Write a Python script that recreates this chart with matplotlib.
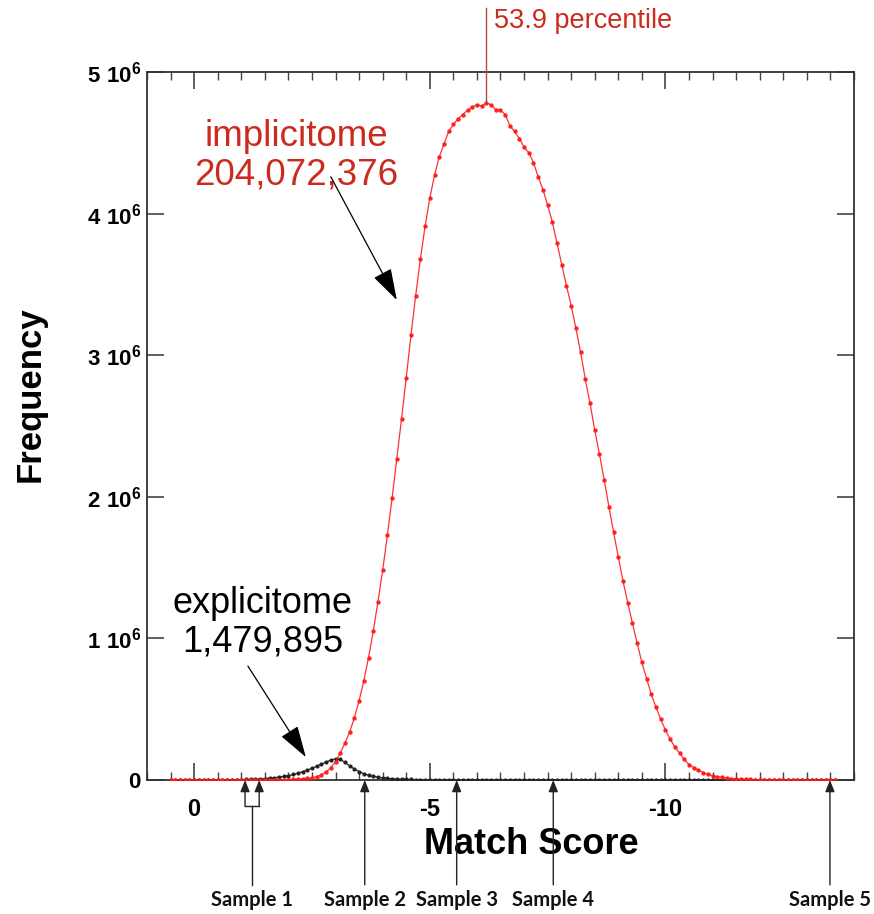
import numpy as np
import matplotlib
matplotlib.use("Agg")
import matplotlib.pyplot as plt
from matplotlib.ticker import MultipleLocator

# Plot inputs
DPI = 100
FIGSIZE = (8.74, 9.14)
XMIN, XMAX = 1, -14
YMIN, YMAX = 0, 5e6
FONT = "Liberation Sans"
SAMPLE_FONT = "Lato"
RED = "#ff1a1a"
TEXT_RED = "#cc2a1e"
LINE_RED = "#b84a35"
DARK = "#222222"

# Histogram bins: match score from 0.5 down in steps of 0.1
SCORE_START = 0.5
SCORE_STEP = -0.1

# Frequencies per bin, in millions
IMPLICITOME = [
    0, 0, 0, 0, 0, 0, 0, 0, 0, 0,                                        # 0.5 .. -0.4
    0, 0, 0, 0, 0, 0, 0, 0, 0, 0.001,                                    # -0.5 .. -1.4
    0.001, 0.001, 0.001, 0.002, 0.002, 0.003, 0.004, 0.006, 0.008, 0.011,  # -1.5 .. -2.4
    0.016, 0.024, 0.036, 0.056, 0.088, 0.13, 0.19, 0.26, 0.34, 0.44,     # -2.5 .. -3.4
    0.56, 0.70, 0.865, 1.05, 1.26, 1.48, 1.73, 1.99, 2.27, 2.55,         # -3.5 .. -4.4
    2.84, 3.14, 3.42, 3.68, 3.91, 4.11, 4.27, 4.40, 4.49, 4.58,          # -4.5 .. -5.4
    4.63, 4.67, 4.70, 4.73, 4.75, 4.77, 4.76, 4.78, 4.77, 4.735,         # -5.5 .. -6.4
    4.73, 4.70, 4.62, 4.58, 4.53, 4.47, 4.43, 4.36, 4.26, 4.17,          # -6.5 .. -7.4
    4.06, 3.94, 3.79, 3.64, 3.49, 3.35, 3.19, 3.02, 2.83, 2.66,          # -7.5 .. -8.4
    2.47, 2.30, 2.12, 1.93, 1.75, 1.575, 1.405, 1.25, 1.107, 0.965,      # -8.5 .. -9.4
    0.83, 0.715, 0.605, 0.513, 0.428, 0.353, 0.288, 0.234, 0.19, 0.145,  # -9.5 .. -10.4
    0.109, 0.088, 0.07, 0.053, 0.039, 0.03, 0.023, 0.018, 0.014, 0.01,   # -10.5 .. -11.4
    0.008, 0.006, 0.005, 0.004, 0.003, 0.002, 0.002, 0.001, 0.001, 0.001,  # -11.5 .. -12.4
    0, 0, 0, 0, 0, 0, 0, 0, 0, 0,                                        # -12.5 .. -13.4
    0, 0,                                                                # -13.5 .. -13.6
]
EXPLICITOME = [
    0, 0, 0, 0, 0, 0, 0, 0, 0, 0,
    0, 0.001, 0.001, 0.002, 0.002, 0.003, 0.004, 0.005, 0.006, 0.008,
    0.010, 0.013, 0.016, 0.020, 0.025, 0.031, 0.039, 0.048, 0.058, 0.070,
    0.083, 0.097, 0.112, 0.127, 0.140, 0.150, 0.145, 0.125, 0.100, 0.078,
    0.060, 0.045, 0.034, 0.026, 0.020, 0.015, 0.012, 0.009, 0.007, 0.006,
    0.005, 0.004, 0.003, 0.003, 0.002, 0.002, 0.001, 0.001, 0.001, 0.001,
    0, 0, 0, 0, 0, 0, 0, 0, 0, 0,
    0, 0, 0, 0, 0, 0, 0, 0, 0, 0,
    0, 0, 0, 0, 0, 0, 0, 0, 0, 0,
    0, 0, 0, 0, 0, 0, 0, 0, 0, 0,
    0, 0, 0, 0, 0, 0, 0, 0, 0, 0,
    0, 0, 0, 0, 0, 0, 0, 0, 0, 0,
    0, 0, 0, 0, 0, 0, 0, 0, 0, 0,
    0, 0, 0, 0, 0, 0, 0, 0, 0, 0,
    0, 0,
]

IMPLICIT_LABEL = "implicitome\n204,072,376"
EXPLICIT_LABEL = "explicitome\n1,479,895"
PERCENTILE_LABEL = "53.9 percentile"

X_TICKS = [0, -5, -10]
X_TICK_LABELS = ["0", "-5", "-10"]
Y_TICKS = [0, 1e6, 2e6, 3e6, 4e6, 5e6]
Y_TICK_LABELS = [r"$\mathbf{0}\;\;$"] + [rf"$\mathbf{{{k}\ 10^{{6}}}}$"
                                        for k in range(1, 6)]

SAMPLE_NAMES = ["Sample 1", "Sample 2", "Sample 3", "Sample 4", "Sample 5"]
SAMPLE_SCORES = [[-1.08, -1.38], [-3.62], [-5.57], [-7.62], [-13.49]]


def sample_arrows(ax):
    trans = ax.get_xaxis_transform()
    arrow = dict(arrowstyle="-|>,head_length=0.5,head_width=0.2", color=DARK,
                 lw=1.0, mutation_scale=14, shrinkA=0, shrinkB=0)
    for name, scores in zip(SAMPLE_NAMES, SAMPLE_SCORES):
        xc = np.mean(scores)
        if len(scores) > 1:
            # bracket joining two arrows
            for s in scores:
                ax.annotate("", xy=(s, 0), xytext=(s, -0.037), xycoords=trans,
                            textcoords=trans, arrowprops=arrow,
                            annotation_clip=False)
            ax.plot([min(scores), max(scores)], [-0.037, -0.037], color=DARK,
                    lw=1.0, transform=trans, clip_on=False)
            ax.plot([xc, xc], [-0.037, -0.148], color=DARK, lw=1.0,
                    transform=trans, clip_on=False)
        else:
            ax.annotate("", xy=(xc, 0), xytext=(xc, -0.148), xycoords=trans,
                        textcoords=trans, arrowprops=arrow,
                        annotation_clip=False)
        ax.text(xc, -0.17, name, transform=trans, ha="center", va="center",
                fontsize=14.5, fontweight="bold", family=SAMPLE_FONT,
                color="#111111")


def main():
    plt.rcParams["font.family"] = FONT
    plt.rcParams["mathtext.fontset"] = "custom"
    plt.rcParams["mathtext.rm"] = FONT
    plt.rcParams["mathtext.bf"] = FONT + ":bold"

    scores = np.round(SCORE_START + SCORE_STEP * np.arange(len(IMPLICITOME)), 1)
    implicit = np.array(IMPLICITOME) * 1e6
    explicit = np.array(EXPLICITOME) * 1e6

    fig = plt.figure(figsize=FIGSIZE, dpi=DPI)
    ax = fig.add_axes([0.1682, 0.1466, 0.8089, 0.7746])

    ax.plot(scores, explicit, color=DARK, lw=0.9, marker="o", ms=2.0,
            zorder=3)
    ax.plot(scores, implicit, color=RED, lw=0.9, marker="o", ms=2.2,
            alpha=0.9, zorder=4)

    ax.set_xlim(XMIN, XMAX)
    ax.set_ylim(YMIN, YMAX)
    ax.set_xticks(X_TICKS, labels=X_TICK_LABELS, fontsize=17,
                  fontweight="bold")
    ax.set_yticks(Y_TICKS, labels=Y_TICK_LABELS, fontsize=16,
                  fontweight="bold")
    ax.xaxis.set_minor_locator(MultipleLocator(0.5))
    ax.tick_params(which="both", direction="in", top=True, right=True,
                   color="#444444")
    ax.tick_params(which="major", length=12, width=1.2)
    ax.tick_params(which="minor", length=6, width=1.0)
    ax.tick_params(axis="x", pad=13)
    ax.tick_params(axis="y", pad=4)
    for sp in ax.spines.values():
        sp.set_color("#333333")
        sp.set_linewidth(1.3)

    ax.set_xlabel("Match Score", fontsize=26, fontweight="bold")
    ax.xaxis.set_label_coords(0.543, -0.066)
    ax.set_ylabel("Frequency", fontsize=25, fontweight="bold")
    ax.yaxis.set_label_coords(-0.142, 0.545)

    # labels with arrows
    ax.text(-2.16, 4.41e6, IMPLICIT_LABEL, color=TEXT_RED, fontsize=26.5,
            ha="center", va="center", linespacing=1.15)
    ax.annotate("", xy=(-4.30, 3.39e6), xytext=(-2.90, 4.26e6),
                arrowprops=dict(arrowstyle="-|>,head_length=0.9,head_width=0.28",
                                color="black", lw=0.9, mutation_scale=22,
                                shrinkA=0, shrinkB=0))
    ax.text(-1.46, 1.11e6, EXPLICIT_LABEL, color="black", fontsize=26,
            ha="center", va="center", linespacing=1.15)
    ax.annotate("", xy=(-2.37, 0.162e6), xytext=(-1.14, 0.805e6),
                arrowprops=dict(arrowstyle="-|>,head_length=0.9,head_width=0.28",
                                color="black", lw=0.9, mutation_scale=22,
                                shrinkA=0, shrinkB=0))

    # marker at the distribution peak
    peak = int(np.argmax(implicit))
    ax.plot([scores[peak], scores[peak]], [implicit[peak], 5.45e6],
            color=LINE_RED, lw=1.0, clip_on=False, zorder=5)
    ax.text(scores[peak] - 0.17, 5.36e6, PERCENTILE_LABEL, color=TEXT_RED,
            fontsize=19.5, ha="left", va="center")

    sample_arrows(ax)

    fig.savefig("out.png", dpi=DPI)


if __name__ == "__main__":
    main()
